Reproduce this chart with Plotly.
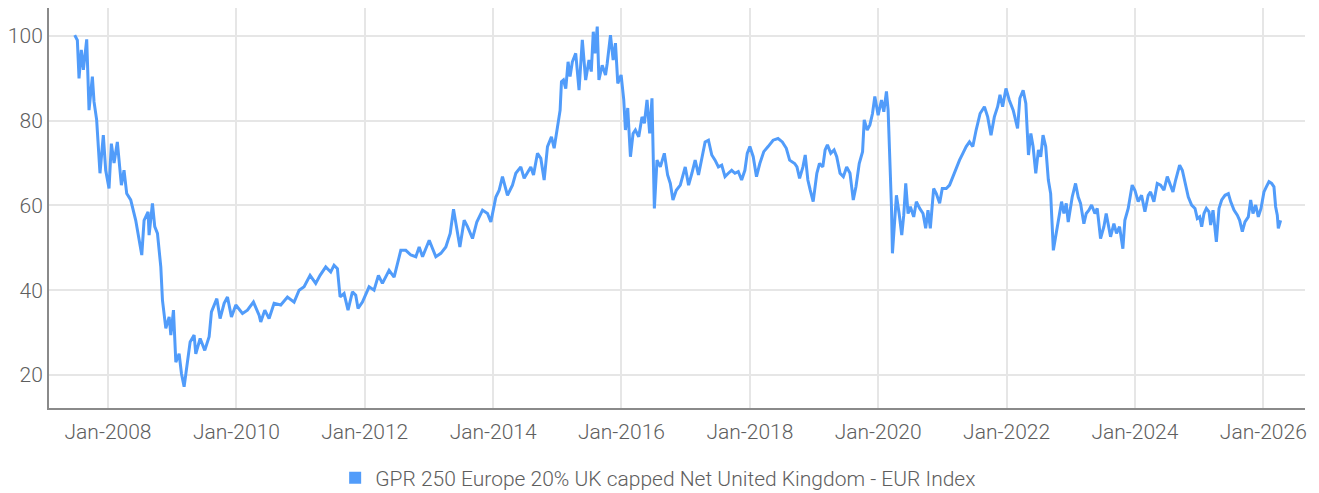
import pandas as pd
import plotly.graph_objects as go

# Decimal-year positions and index values
t_years = [
    2007.481, 2007.522, 2007.548, 2007.584, 2007.616, 2007.668, 2007.704, 2007.756, 2007.782, 2007.823,
    2007.875, 2007.927, 2007.964, 2008.016, 2008.052, 2008.094, 2008.145, 2008.208, 2008.249, 2008.291,
    2008.353, 2008.431, 2008.525, 2008.561, 2008.623, 2008.639, 2008.691, 2008.727, 2008.769, 2008.821,
    2008.847, 2008.899, 2008.951, 2008.977, 2009.018, 2009.055, 2009.106, 2009.143, 2009.184, 2009.226,
    2009.278, 2009.340, 2009.366, 2009.434, 2009.506, 2009.574, 2009.610, 2009.694, 2009.745, 2009.808,
    2009.860, 2009.922, 2009.990, 2010.094, 2010.171, 2010.265, 2010.353, 2010.379, 2010.442, 2010.509,
    2010.587, 2010.691, 2010.795, 2010.899, 2010.977, 2011.055, 2011.148, 2011.236, 2011.304,
    2011.392, 2011.470, 2011.522, 2011.574, 2011.616, 2011.678, 2011.740, 2011.808, 2011.860, 2011.896,
    2011.964, 2012.068, 2012.145, 2012.213, 2012.275, 2012.379, 2012.457, 2012.561, 2012.639, 2012.717,
    2012.795, 2012.847, 2012.899, 2013.003, 2013.106, 2013.184, 2013.262, 2013.330, 2013.382, 2013.434,
    2013.481, 2013.548, 2013.600, 2013.678, 2013.745, 2013.834, 2013.912, 2013.964, 2014.042, 2014.094,
    2014.145, 2014.223, 2014.301, 2014.353, 2014.431, 2014.483, 2014.587, 2014.629, 2014.691, 2014.743,
    2014.795, 2014.847, 2014.909, 2014.951, 2015.003, 2015.044, 2015.065,
    2015.096, 2015.132, 2015.168, 2015.199, 2015.235, 2015.287, 2015.339, 2015.390, 2015.442, 2015.494,
    2015.530, 2015.561, 2015.587, 2015.623, 2015.649, 2015.700, 2015.752, 2015.778, 2015.829, 2015.871,
    2015.907, 2015.943, 2015.995, 2016.036, 2016.062, 2016.098, 2016.140, 2016.181, 2016.217, 2016.269,
    2016.320, 2016.357, 2016.398, 2016.439, 2016.475, 2016.491, 2016.512, 2016.553, 2016.605, 2016.667,
    2016.718, 2016.760, 2016.801, 2016.853, 2016.915, 2016.992, 2017.044, 2017.096, 2017.147, 2017.199,
    2017.251, 2017.302, 2017.354, 2017.406, 2017.457, 2017.509, 2017.561, 2017.612, 2017.664, 2017.716,
    2017.767, 2017.819, 2017.871, 2017.922, 2017.959, 2018.000, 2018.052, 2018.103, 2018.155, 2018.217,
    2018.284, 2018.362, 2018.439, 2018.506, 2018.568, 2018.620, 2018.698, 2018.734, 2018.775, 2018.827,
    2018.863, 2018.904, 2018.941, 2018.987,
    2019.044, 2019.085, 2019.137, 2019.173, 2019.209, 2019.261, 2019.313, 2019.354, 2019.406, 2019.457,
    2019.509, 2019.561, 2019.587, 2019.612, 2019.654, 2019.705, 2019.757, 2019.783, 2019.829, 2019.871,
    2019.912, 2019.948, 2020.000, 2020.052, 2020.088, 2020.129, 2020.155, 2020.181, 2020.207, 2020.222,
    2020.258, 2020.284, 2020.326, 2020.367, 2020.398, 2020.429, 2020.465, 2020.501, 2020.553, 2020.594,
    2020.646, 2020.698, 2020.739, 2020.775, 2020.811, 2020.863, 2020.904, 2020.956, 2020.997, 2021.059,
    2021.111, 2021.163, 2021.214, 2021.266, 2021.318, 2021.370, 2021.421, 2021.473, 2021.525, 2021.587,
    2021.654, 2021.705, 2021.757, 2021.809, 2021.860, 2021.897, 2021.938, 2021.990, 2022.041, 2022.103,
    2022.171, 2022.207, 2022.258, 2022.300, 2022.341, 2022.378, 2022.413, 2022.455, 2022.496, 2022.532,
    2022.568, 2022.610, 2022.651, 2022.687, 2022.729,
    2022.774, 2022.816, 2022.857, 2022.894, 2022.930, 2022.961, 2023.023, 2023.075, 2023.117, 2023.153,
    2023.205, 2023.242, 2023.283, 2023.325, 2023.377, 2023.413, 2023.465, 2023.517, 2023.553, 2023.621,
    2023.673, 2023.714, 2023.761, 2023.813, 2023.844, 2023.896, 2023.932, 2023.958, 2024.000, 2024.052,
    2024.104, 2024.156, 2024.208, 2024.244, 2024.296, 2024.348, 2024.400, 2024.452, 2024.504, 2024.540,
    2024.592, 2024.634, 2024.696, 2024.738, 2024.779, 2024.831, 2024.883, 2024.935, 2024.971, 2025.008,
    2025.039, 2025.075, 2025.112, 2025.153, 2025.179, 2025.216, 2025.268, 2025.309, 2025.351, 2025.403,
    2025.455, 2025.491, 2025.543, 2025.595, 2025.631, 2025.673, 2025.714, 2025.766, 2025.803, 2025.839,
    2025.881, 2025.922, 2025.964, 2026.010, 2026.047, 2026.088, 2026.130, 2026.166, 2026.192, 2026.218,
    2026.234, 2026.270,
]

index_values = [
    100.2, 99.0, 90.0, 96.7, 92.0, 99.2, 82.5, 90.4, 84.5, 80.2,
    67.6, 76.6, 68.3, 64.0, 74.6, 70.0, 75.0, 64.8, 68.3, 62.8,
    61.3, 56.5, 48.3, 56.5, 58.5, 53.0, 60.5, 55.0, 53.4, 45.5,
    37.6, 31.0, 33.7, 29.4, 35.3, 23.0, 25.0, 20.3, 17.2, 21.9,
    27.8, 29.4, 25.0, 28.6, 25.8, 29.0, 34.9, 38.0, 33.3, 36.9,
    38.4, 33.7, 36.5, 34.5, 35.3, 37.2, 34.1, 32.5, 35.3, 33.3,
    36.9, 36.5, 38.4, 37.2, 40.0, 40.8, 43.5, 41.6, 43.5,
    45.5, 44.3, 45.9, 45.1, 38.4, 39.2, 35.3, 39.6, 38.8, 35.7,
    37.2, 40.8, 40.0, 43.5, 41.6, 44.7, 43.1, 49.4, 49.4, 48.3,
    47.9, 50.2, 47.9, 51.8, 47.9, 48.7, 50.2, 53.4, 59.1, 54.2,
    50.2, 56.5, 55.0, 52.2, 56.1, 58.9, 58.1, 56.1, 62.0, 63.6,
    66.8, 62.4, 64.8, 67.6, 69.1, 66.4, 69.1, 67.2, 72.3, 71.1,
    66.0, 73.9, 76.2, 73.5, 78.6, 82.5, 89.2,
    89.6, 87.6, 93.9, 90.4, 93.9, 95.9, 87.2, 99.1, 89.6, 94.3,
    91.6, 101.0, 95.9, 102.2, 89.6, 93.1, 90.8, 93.5, 100.2, 94.3,
    98.3, 88.8, 90.8, 84.9, 77.8, 83.0, 71.5, 77.0, 77.8, 76.2,
    80.9, 79.4, 84.9, 77.0, 85.3, 73.9, 59.3, 70.7, 69.1, 72.3,
    67.2, 65.2, 61.3, 63.6, 64.8, 69.1, 64.8, 67.6, 70.7, 67.2,
    71.5, 75.0, 75.4, 71.9, 70.7, 69.1, 69.5, 66.8, 67.6, 68.3,
    67.6, 68.0, 66.0, 68.3, 72.3, 73.9, 71.5, 66.8, 69.9, 72.7,
    73.9, 75.4, 75.8, 75.0, 73.5, 70.7, 69.9, 69.1, 66.4, 69.1,
    71.9, 66.0, 63.6, 60.9,
    67.6, 69.9, 69.1, 73.1, 74.3, 72.3, 73.1, 71.5, 67.6, 66.8,
    69.1, 67.6, 64.4, 61.3, 64.4, 69.9, 72.7, 80.2, 77.8, 79.0,
    81.7, 85.7, 81.3, 84.9, 82.1, 86.9, 82.5, 72.3, 59.7, 48.7,
    56.5, 62.4, 58.1, 53.0, 57.7, 65.2, 58.1, 59.7, 57.3, 60.9,
    59.3, 58.1, 54.6, 58.9, 54.6, 64.0, 62.8, 60.5, 64.0, 64.0,
    64.8, 66.8, 69.1, 70.7, 72.3, 73.9, 75.0, 73.9, 77.8, 81.7,
    83.3, 80.9, 76.6, 80.9, 83.3, 86.1, 83.3, 87.6, 84.9, 82.5,
    78.2, 85.3, 87.2, 84.1, 71.9, 77.0, 73.9, 67.6, 73.1, 71.5,
    76.6, 73.9, 66.0, 62.8, 49.4,
    53.4, 57.3, 60.9, 58.1, 60.5, 56.1, 62.0, 65.2, 62.0, 60.5,
    55.7, 58.1, 58.9, 60.1, 58.1, 59.3, 52.2, 55.0, 58.1, 52.6,
    55.7, 53.4, 55.0, 49.8, 56.5, 59.3, 62.0, 64.8, 63.6, 60.9,
    62.4, 58.5, 62.4, 63.2, 60.9, 65.2, 64.8, 63.6, 66.8, 65.2,
    63.2, 66.0, 69.5, 68.3, 65.2, 62.0, 60.1, 59.3, 56.9, 57.3,
    55.0, 58.1, 59.3, 58.5, 55.4, 58.9, 51.4, 59.3, 61.3, 62.4,
    62.8, 60.9, 58.9, 57.7, 56.5, 53.8, 56.1, 57.3, 61.3, 58.1,
    60.1, 57.3, 59.3, 63.2, 64.4, 65.6, 65.2, 64.4, 59.7, 57.7,
    54.6, 56.5,
]

y_tick_values = [20, 40, 60, 80, 100]
series_name = "GPR 250 Europe 20% UK capped Net United Kingdom - EUR Index"


def to_date(t):
    year = int(t)
    start = pd.Timestamp(year=year, month=1, day=1)
    end = pd.Timestamp(year=year + 1, month=1, day=1)
    return start + (end - start) * (t - year)


dates = [to_date(t) for t in t_years]

LINE_COLOR = "#519cfa"
FONT = "Roboto, Arial, sans-serif"
TEXT_COLOR = "#5e5e5e"

fig = go.Figure()
fig.add_trace(go.Scatter(
    x=dates, y=index_values, mode="lines",
    line=dict(color=LINE_COLOR, width=3),
    name=series_name, showlegend=False, hoverinfo="skip",
))
# legend entry (square symbol)
fig.add_trace(go.Scatter(
    x=[None], y=[None], mode="markers",
    marker=dict(symbol="square", size=12, color=LINE_COLOR),
    name=series_name, showlegend=True,
))

fig.update_layout(
    width=1319, height=493,
    margin=dict(l=49, r=14, t=8, b=85, autoexpand=False),
    paper_bgcolor="white", plot_bgcolor="white",
    font=dict(family=FONT, size=21, color=TEXT_COLOR, weight=300),
    legend=dict(orientation="h", x=0.485, xanchor="center", y=-0.175, yanchor="middle",
                font=dict(size=21, color=TEXT_COLOR, weight=300), itemwidth=30),
    xaxis=dict(
        type="date",
        range=[to_date(2007.08), to_date(2026.65)],
        tick0="2008-01-01", dtick="M24", tickformat="%b-%Y",
        showgrid=True, gridcolor="#e6e6e6", gridwidth=2,
        showline=True, linecolor="#8a8a8a", linewidth=2,
        ticks="", ticklabelstandoff=4, automargin=False,
        zeroline=False,
    ),
    yaxis=dict(
        range=[12.2, 106.6],
        tickvals=y_tick_values,
        showgrid=True, gridcolor="#e6e6e6", gridwidth=2,
        showline=True, linecolor="#8a8a8a", linewidth=2,
        ticks="", ticklabelstandoff=0, automargin=False,
        zeroline=False,
    ),
)

fig.write_html(
    "out.html",
    config={"displayModeBar": False},
    post_script="document.body.style.margin='0';document.body.style.overflow='hidden';",
)
